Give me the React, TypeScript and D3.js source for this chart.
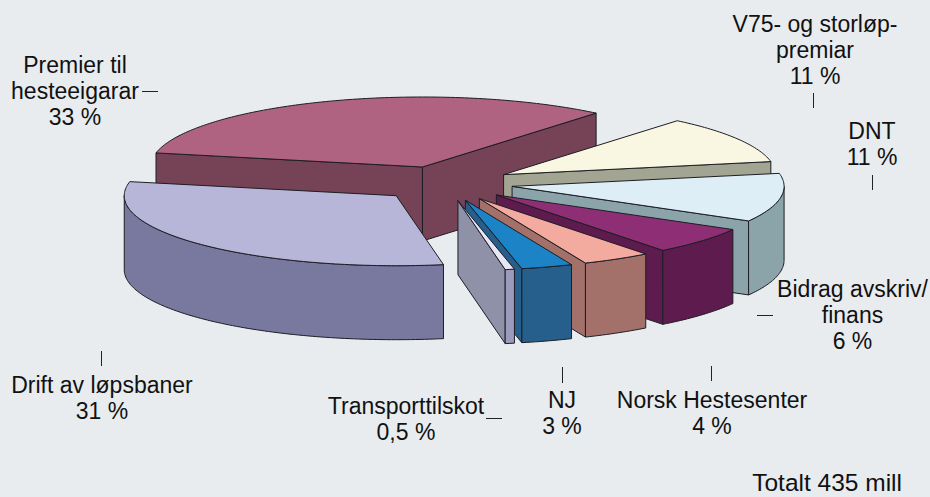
import * as d3 from 'd3';

const categories = ['Premier til hesteeigarar', 'V75- og storløppremiar', 'DNT', 'Bidrag avskriv/finans', 'Norsk Hestesenter', 'NJ', 'Transporttilskot', 'Drift av løpsbaner'];
const shares = [32.8, 11, 11.2, 6.3, 4.1, 3.05, 0.55, 31];
const topColors = ['#b06380', '#f9f7e1', '#ddeef7', '#8e2e74', '#f4ab9f', '#1c84c6', '#e6e6f4', '#b8b6d8'];
const sideColors = ['#764256', '#a2a592', '#8ba4aa', '#5e1c4e', '#a3716a', '#265e8c', '#8f91a9', '#79789f'];
const wallColors = ['#764256', '#a2a592', '#8ba4aa', '#5e1c4e', '#a3716a', '#265e8c', '#9b9cbc', '#79789f'];

const labels = [
  { lines: ['V75- og storløp-', 'premiar', '11 %'], x: 815, y: 32 },
  { lines: ['Premier til', 'hesteeigarar', '33 %'], x: 75, y: 73 },
  { lines: ['DNT', '11 %'], x: 872, y: 139 },
  { lines: ['Bidrag avskriv/', 'finans', '6 %'], x: 852.5, y: 297 },
  { lines: ['Norsk Hestesenter', '4 %'], x: 712, y: 408 },
  { lines: ['NJ', '3 %'], x: 562, y: 408 },
  { lines: ['Transporttilskot', '0,5 %'], x: 406, y: 414 },
  { lines: ['Drift av løpsbaner', '31 %'], x: 102, y: 393 },
];
const leaders = [
  [813.5, 93, 813.5, 108],
  [142, 91.5, 158, 91.5],
  [872.5, 175, 872.5, 190],
  [757, 315.5, 773, 315.5],
  [711.5, 366, 711.5, 381],
  [562.5, 367, 562.5, 383],
  [486, 418.5, 502, 418.5],
  [101.5, 351, 101.5, 366],
];
const totalLabel = 'Totalt 435 mill';

const width = 930;
const height = 497;
const cx = 445;
const cy = 183.5;
const rx = 272;
const ry = 70;
const depth = 74;
const explode = 0.25;
const startDeg = -78.4;

const rad = (deg: number) => (deg * Math.PI) / 180;
const lineGen = d3.line<[number, number]>();

export default function App() {
  const pie = d3.pie<number>().sort(null).startAngle(rad(startDeg)).endAngle(rad(startDeg + 360));
  const arcs = pie(shares);

  const slices = arcs.map((a, i) => {
    const mid = (a.startAngle + a.endAngle) / 2;
    const ax = cx + explode * rx * Math.sin(mid);
    const ay = cy - explode * ry * Math.cos(mid);
    const rim = (t: number): [number, number] => [ax + rx * Math.sin(t), ay - ry * Math.cos(t)];
    const sweep = (t0: number, t1: number) => {
      const n = Math.max(2, Math.ceil((t1 - t0) / rad(1)));
      return d3.range(n + 1).map(k => rim(t0 + ((t1 - t0) * k) / n));
    };
    const drop = (p: [number, number]): [number, number] => [p[0], p[1] + depth];
    const radial = (t: number) => lineGen([[ax, ay], rim(t), drop(rim(t)), [ax, ay + depth]]) + 'Z';

    const faces: { d: string; fill: string }[] = [];
    if (Math.sin(a.startAngle) < 0) faces.push({ d: radial(a.startAngle), fill: sideColors[i] });
    if (Math.sin(a.endAngle) > 0) faces.push({ d: radial(a.endAngle), fill: sideColors[i] });
    const w0 = Math.max(a.startAngle, Math.PI / 2);
    const w1 = Math.min(a.endAngle, (3 * Math.PI) / 2);
    if (w1 > w0) {
      const upper = sweep(w0, w1);
      faces.push({ d: lineGen([...upper, ...upper.slice().reverse().map(drop)]) + 'Z', fill: wallColors[i] });
    }
    const top = lineGen([[ax, ay], ...sweep(a.startAngle, a.endAngle)]) + 'Z';
    return { key: categories[i], ay, faces, top, fill: topColors[i] };
  });
  const ordered = slices.slice().sort((p, q) => d3.ascending(p.ay, q.ay));

  return (
    <svg width={width} height={height} style={{ position: 'absolute', left: 0, top: 0 }}>
      <rect width={width} height={height} fill="#e8ecef" />
      {ordered.map(s => (
        <g key={s.key} stroke="#1d1d24" strokeWidth={1} strokeLinejoin="round">
          {s.faces.map((f, i) => <path key={i} d={f.d} fill={f.fill} />)}
          <path d={s.top} fill={s.fill} />
        </g>
      ))}
      {leaders.map((l, i) => (
        <line key={i} x1={l[0]} y1={l[1]} x2={l[2]} y2={l[3]} stroke="#222" strokeWidth={1} />
      ))}
      <g fontFamily="'Liberation Sans', Arial, sans-serif" fontSize={23} fill="#111" textAnchor="middle">
        {labels.map(l => (
          <text key={l.lines[0]} x={l.x} y={l.y}>
            {l.lines.map((t, i) => <tspan key={i} x={l.x} dy={i === 0 ? 0 : 26}>{t}</tspan>)}
          </text>
        ))}
        <text x={902} y={491} textAnchor="end" fontSize={24.5}>{totalLabel}</text>
      </g>
    </svg>
  );
}
